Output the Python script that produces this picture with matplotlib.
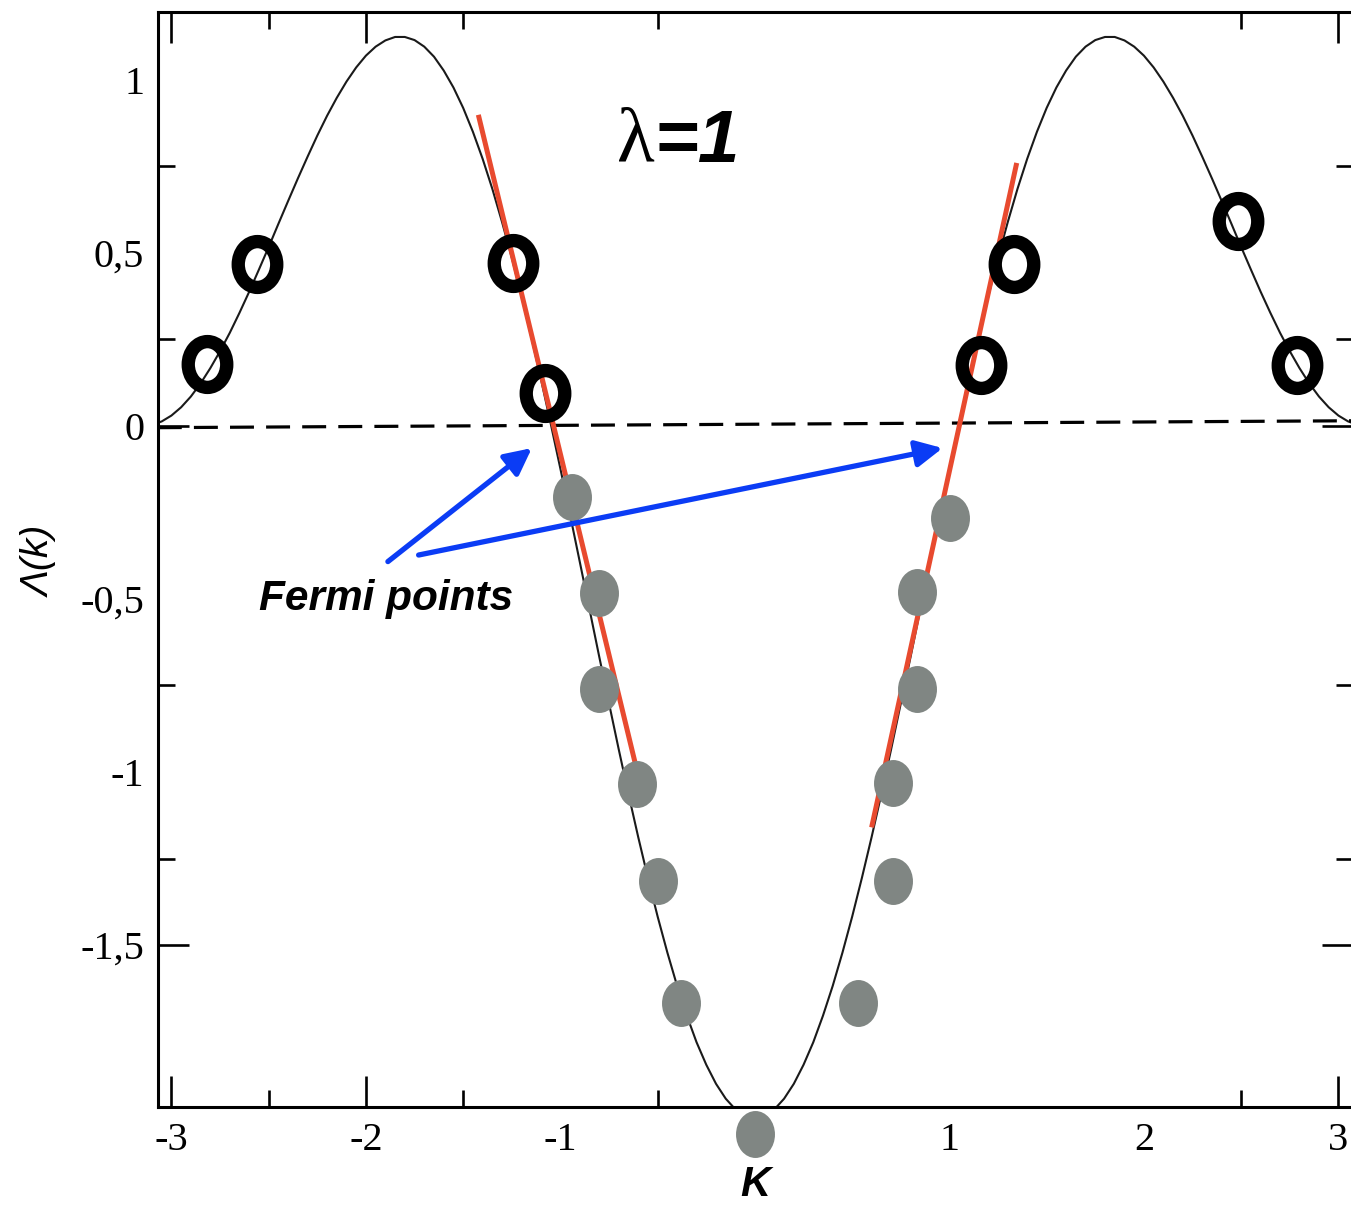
import matplotlib
matplotlib.use("Agg")
import matplotlib.pyplot as plt
from matplotlib.path import Path
from matplotlib.transforms import Affine2D

# ---------------- data ----------------
curve_k = [-3.10, -3.05, -3.00, -2.95, -2.90, -2.85, -2.80, -2.75, -2.70, -2.65,
           -2.60, -2.55, -2.50, -2.45, -2.40, -2.35, -2.30, -2.25, -2.20, -2.15,
           -2.10, -2.05, -2.00, -1.95, -1.90, -1.85, -1.80, -1.75, -1.70, -1.65,
           -1.60, -1.55, -1.50, -1.45, -1.40, -1.35, -1.30, -1.25, -1.20, -1.15,
           -1.10, -1.05, -1.00, -0.95, -0.90, -0.85, -0.80, -0.75, -0.70, -0.65,
           -0.60, -0.55, -0.50, -0.45, -0.40, -0.35, -0.30, -0.25, -0.20, -0.15,
           -0.10, -0.05, 0.00, 0.05, 0.10, 0.15, 0.20, 0.25, 0.30, 0.35,
           0.40, 0.45, 0.50, 0.55, 0.60, 0.65, 0.70, 0.75, 0.80, 0.85,
           0.90, 0.95, 1.00, 1.05, 1.10, 1.15, 1.20, 1.25, 1.30, 1.35,
           1.40, 1.45, 1.50, 1.55, 1.60, 1.65, 1.70, 1.75, 1.80, 1.85,
           1.90, 1.95, 2.00, 2.05, 2.10, 2.15, 2.20, 2.25, 2.30, 2.35,
           2.40, 2.45, 2.50, 2.55, 2.60, 2.65, 2.70, 2.75, 2.80, 2.85,
           2.90, 2.95, 3.00, 3.05, 3.10]
curve_lambda = [0.003, 0.013, 0.030, 0.054, 0.085, 0.123, 0.167, 0.216, 0.269, 0.327,
                0.388, 0.452, 0.517, 0.584, 0.650, 0.715, 0.778, 0.839, 0.896, 0.948,
                0.995, 1.036, 1.070, 1.096, 1.114, 1.124, 1.124, 1.115, 1.096, 1.067,
                1.027, 0.978, 0.919, 0.850, 0.772, 0.685, 0.589, 0.486, 0.375, 0.258,
                0.135, 0.007, -0.124, -0.258, -0.394, -0.531, -0.668, -0.802, -0.935, -1.064,
                -1.188, -1.306, -1.418, -1.522, -1.618, -1.704, -1.781, -1.846, -1.901, -1.944,
                -1.975, -1.994, -2.000, -1.994, -1.975, -1.944, -1.901, -1.846, -1.781, -1.704,
                -1.618, -1.522, -1.418, -1.306, -1.188, -1.064, -0.935, -0.802, -0.668, -0.531,
                -0.394, -0.258, -0.124, 0.007, 0.135, 0.258, 0.375, 0.486, 0.589, 0.685,
                0.772, 0.850, 0.919, 0.978, 1.027, 1.067, 1.096, 1.115, 1.124, 1.124,
                1.114, 1.096, 1.070, 1.036, 0.995, 0.948, 0.896, 0.839, 0.778, 0.715,
                0.650, 0.584, 0.517, 0.452, 0.388, 0.327, 0.269, 0.216, 0.167, 0.123,
                0.085, 0.054, 0.030, 0.013, 0.003]

# Fermi level (dashed), slightly tilted as in the original
fermi_k = [-3.07, 3.08]
fermi_y = [-0.005, 0.015]

# linear (red) approximations near the Fermi points
red_left_k = [-1.422, -0.617]
red_left_y = [0.899, -0.971]
red_right_k = [0.600, 1.346]
red_right_y = [-1.160, 0.760]

# open (empty) states
open_k = [-2.816, -2.559, -1.244, -1.080, 1.162, 1.333, 2.485, 2.785]
open_y = [0.178, 0.467, 0.471, 0.095, 0.176, 0.467, 0.593, 0.176]

# filled (occupied) states
filled_k = [-0.942, -0.802, -0.802, -0.608, -0.497, -0.382, 0.000,
            0.531, 0.711, 0.711, 0.834, 0.834, 1.003]
filled_y = [-0.204, -0.484, -0.759, -1.035, -1.314, -1.668, -2.046,
            -1.668, -1.314, -1.033, -0.759, -0.480, -0.267]

# arrows: (tail_k, tail_y, tip_k, tip_y)
arrow1 = (-1.887, -0.392, -1.147, -0.064)
arrow2 = (-1.729, -0.373, 0.965, -0.064)

xtick_vals = [-3, -2, -1, 1, 2, 3]
xtick_labels = ["-3", "-2", "-1", "1", "2", "3"]
xtick_minor = [-2.5, -1.5, -0.5, 2.5]
ytick_vals = [1, 0.5, 0, -0.5, -1, -1.5]
ytick_labels = ["1", "0,5", "0", "-0,5", "-1", "-1,5"]
ytick_minor = [0.75, 0.25, -0.75, -1.25]

# ---------------- figure ----------------
W, H = 1351, 1205
fig = plt.figure(figsize=(W / 100, H / 100), dpi=100)
fig.patch.set_facecolor("white")
left_px, right_px, top_px, bottom_px = 158, 1353, 11.7, 1107
ax = fig.add_axes([left_px / W, 1 - bottom_px / H,
                   (right_px - left_px) / W, (bottom_px - top_px) / H])
ax.set_xlim(-3.069, 3.075)
ax.set_ylim(-1.968, 1.197)

serif = "Liberation Serif"
sans = "Liberation Sans"

ax.plot(curve_k, curve_lambda, color="#1a1a1a", lw=1.5, zorder=2)
ax.plot(fermi_k, fermi_y, color="black", lw=2.3, linestyle=(0, (7.5, 3.8)), zorder=2)
ax.plot(red_left_k, red_left_y, color="#e84a2f", lw=3.6, solid_capstyle="butt", zorder=3)
ax.plot(red_right_k, red_right_y, color="#e84a2f", lw=3.6, solid_capstyle="butt", zorder=3)

open_marker = Path.unit_circle().transformed(Affine2D().scale(0.84, 1.0))
filled_marker = Path.unit_circle().transformed(Affine2D().scale(0.83, 1.0))

ax.plot(open_k, open_y, linestyle="none", marker=open_marker, markersize=33,
        markerfacecolor="none", markeredgecolor="black", markeredgewidth=9.6, zorder=5)
ax.plot(filled_k, filled_y, linestyle="none", marker=filled_marker, markersize=33.8,
        markerfacecolor="#808683", markeredgewidth=0, zorder=5, clip_on=False)

for (tk, ty, hk, hy) in (arrow1, arrow2):
    ax.annotate("", xy=(hk, hy), xytext=(tk, ty),
                arrowprops=dict(arrowstyle="-|>", color="#0b3cf5", lw=3.8,
                                mutation_scale=40, shrinkA=0, shrinkB=0),
                zorder=6)

ax.text(-1.897, -0.532, "Fermi points", fontsize=30.5, fontfamily=sans,
        fontweight="bold", fontstyle="italic", ha="center", va="baseline", zorder=7)
ax.text(-0.515, 0.763, "λ", fontsize=56, fontfamily=serif, ha="right",
        va="baseline", zorder=7)
ax.text(-0.515, 0.763, "=1", fontsize=54, fontfamily=sans, fontweight="bold",
        fontstyle="italic", ha="left", va="baseline", zorder=7)

# ---------------- axes styling ----------------
for s in ax.spines.values():
    s.set_linewidth(2.2)
    s.set_color("black")

ax.set_xticks(xtick_vals)
ax.set_xticklabels(xtick_labels)
ax.set_xticks(xtick_minor, minor=True)
ax.set_yticks(ytick_vals)
ax.set_yticklabels(ytick_labels)
ax.set_yticks(ytick_minor, minor=True)

ax.tick_params(which="both", direction="in", top=True, right=True, width=1.9,
               color="black")
ax.tick_params(which="major", length=22)
ax.tick_params(which="minor", length=12)
ax.tick_params(axis="x", which="major", pad=11, labelsize=29)
ax.tick_params(axis="y", which="major", pad=10, labelsize=29)
for lab in ax.get_xticklabels() + ax.get_yticklabels():
    lab.set_fontfamily(serif)

for t, v in zip(ax.xaxis.get_major_ticks(), xtick_vals):
    if v in (-1, 1, 2):
        t.tick1line.set_visible(False)
        t.tick2line.set_visible(False)
for t, v in zip(ax.yaxis.get_major_ticks(), ytick_vals):
    if v not in (0, -1.5):
        t.tick1line.set_visible(False)
        t.tick2line.set_visible(False)

ax.set_xlabel("K", fontsize=30, fontfamily=sans, fontweight="bold", fontstyle="italic")
ax.xaxis.set_label_coords((755 - left_px) / (right_px - left_px),
                          (bottom_px - 1185) / (bottom_px - top_px))
ax.xaxis.label.set_va("center")
ax.set_ylabel("Λ(k)", fontsize=28, fontfamily=sans, fontstyle="italic")
ax.yaxis.set_label_coords((40 - left_px) / (right_px - left_px),
                          (bottom_px - 561) / (bottom_px - top_px))
ax.yaxis.label.set_va("center")

fig.savefig("out.png", dpi=100, facecolor="white")
